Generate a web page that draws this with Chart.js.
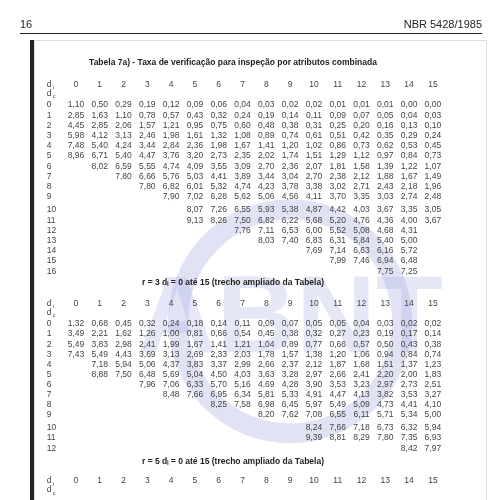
<!DOCTYPE html>
<html>
<head>
<meta charset="utf-8">
<script src="https://cdn.jsdelivr.net/npm/chart.js@4"></script>
<style>
  html, body { margin: 0; padding: 0; background: #fff; }
  canvas { display: block; }
</style>
</head>
<body>
<canvas id="tbl" width="500" height="500"></canvas>
<script>
// column headers d_i = 0..15
const colLabels = ["0","1","2","3","4","5","6","7","8","9","10","11","12","13","14","15"];

// r = 3 table, each row: [d_c, first column, values...]
const rowsR3 = [
  [0, 0, "1,10 0,50 0,29 0,19 0,12 0,09 0,06 0,04 0,03 0,02 0,02 0,01 0,01 0,01 0,00 0,00"],
  [1, 0, "2,85 1,63 1,10 0,78 0,57 0,43 0,32 0,24 0,19 0,14 0,11 0,09 0,07 0,05 0,04 0,03"],
  [2, 0, "4,45 2,85 2,06 1,57 1,21 0,95 0,75 0,60 0,48 0,38 0,31 0,25 0,20 0,16 0,13 0,10"],
  [3, 0, "5,98 4,12 3,13 2,46 1,98 1,61 1,32 1,08 0,89 0,74 0,61 0,51 0,42 0,35 0,29 0,24"],
  [4, 0, "7,48 5,40 4,24 3,44 2,84 2,36 1,98 1,67 1,41 1,20 1,02 0,86 0,73 0,62 0,53 0,45"],
  [5, 0, "8,96 6,71 5,40 4,47 3,76 3,20 2,73 2,35 2,02 1,74 1,51 1,29 1,12 0,97 0,84 0,73"],
  [6, 1, "8,02 6,59 5,55 4,74 4,09 3,55 3,09 2,70 2,36 2,07 1,81 1,58 1,39 1,22 1,07"],
  [7, 2, "7,80 6,66 5,76 5,03 4,41 3,89 3,44 3,04 2,70 2,38 2,12 1,88 1,67 1,49"],
  [8, 3, "7,80 6,82 6,01 5,32 4,74 4,23 3,78 3,38 3,02 2,71 2,43 2,18 1,96"],
  [9, 4, "7,90 7,02 6,28 5,62 5,06 4,56 4,11 3,70 3,35 3,03 2,74 2,48"],
  [10, 5, "8,07 7,26 6,55 5,93 5,38 4,87 4,42 4,03 3,67 3,35 3,05"],
  [11, 5, "9,13 8,26 7,50 6,82 6,22 5,68 5,20 4,76 4,36 4,00 3,67"],
  [12, 7, "7,76 7,11 6,53 6,00 5,52 5,08 4,68 4,31"],
  [13, 8, "8,03 7,40 6,83 6,31 5,84 5,40 5,00"],
  [14, 10, "7,69 7,14 6,63 6,16 5,72"],
  [15, 11, "7,99 7,46 6,94 6,48"],
  [16, 13, "7,75 7,25"]
];

// r = 5 table
const rowsR5 = [
  [0, 0, "1,32 0,68 0,45 0,32 0,24 0,18 0,14 0,11 0,09 0,07 0,05 0,05 0,04 0,03 0,02 0,02"],
  [1, 0, "3,49 2,21 1,62 1,26 1,00 0,81 0,66 0,54 0,45 0,38 0,32 0,27 0,23 0,19 0,17 0,14"],
  [2, 0, "5,49 3,83 2,98 2,41 1,99 1,67 1,41 1,21 1,04 0,89 0,77 0,66 0,57 0,50 0,43 0,38"],
  [3, 0, "7,43 5,49 4,43 3,69 3,13 2,69 2,33 2,03 1,78 1,57 1,38 1,20 1,06 0,94 0,84 0,74"],
  [4, 1, "7,18 5,94 5,06 4,37 3,83 3,37 2,99 2,66 2,37 2,12 1,87 1,68 1,51 1,37 1,23"],
  [5, 1, "8,88 7,50 6,48 5,69 5,04 4,50 4,03 3,63 3,28 2,97 2,66 2,41 2,20 2,00 1,83"],
  [6, 3, "7,96 7,06 6,33 5,70 5,16 4,69 4,28 3,90 3,53 3,23 2,97 2,73 2,51"],
  [7, 4, "8,48 7,66 6,95 6,34 5,81 5,33 4,91 4,47 4,13 3,82 3,53 3,27"],
  [8, 6, "8,25 7,58 6,98 6,45 5,97 5,49 5,09 4,73 4,41 4,10"],
  [9, 8, "8,20 7,62 7,08 6,55 6,11 5,71 5,34 5,00"],
  [10, 10, "8,24 7,66 7,18 6,73 6,32 5,94"],
  [11, 10, "9,39 8,81 8,29 7,80 7,35 6,93"],
  [12, 14, "8,42 7,97"]
];

const titleText = "Tabela 7a) - Taxa de verificação para inspeção por atributos combinada";
const captionR3 = "r = 3 d\u1d62 = 0 até 15 (trecho ampliado da Tabela)";
const captionR5 = "r = 5 d\u1d62 = 0 até 15 (trecho ampliado da Tabela)";

// y is measured in text lines
const LINE = 10.2;
const t1Top = 105 / LINE, t2Top = 324 / LINE;

function cellsOf(rows, top, stretch) {
  const pts = [];
  rows.forEach(([r, first, vals]) => {
    const y = top + r * stretch + (r >= 10 ? 0.3 : 0);
    pts.push({x: -1.1, y, v: String(r), label: true});
    vals.split(" ").forEach((v, i) => pts.push({x: first + i, y, v}));
  });
  return pts;
}

const headers = [t1Top - 2, t2Top - 2, 481 / LINE].map(y => ({y}));

const textPlugin = {
  id: "textPlugin",
  beforeDatasetsDraw(chart) {
    const ctx = chart.ctx, xs = chart.scales.x, ys = chart.scales.y;
    ctx.save();
    // faint ABNT watermark ring
    ctx.strokeStyle = "rgba(170,175,225,0.35)";
    ctx.lineWidth = 20;
    ctx.beginPath();
    ctx.arc(xs.getPixelForValue(9), ys.getPixelForValue(31.5), 112, 0, Math.PI * 2);
    ctx.stroke();
    ctx.fillStyle = "rgba(170,175,225,0.3)";
    ctx.font = "bold 110px 'Liberation Sans'";
    ctx.textAlign = "center";
    ctx.textBaseline = "middle";
    ctx.fillText("ABNT", xs.getPixelForValue(9), ys.getPixelForValue(31.5));
    ctx.restore();
  },
  afterDatasetsDraw(chart) {
    const ctx = chart.ctx, xs = chart.scales.x, ys = chart.scales.y;
    ctx.save();
    ctx.fillStyle = "#222";
    ctx.textBaseline = "middle";
    // page header
    ctx.font = "11px 'Liberation Sans'";
    ctx.textAlign = "left";
    ctx.fillText("16", 20, 25);
    ctx.textAlign = "right";
    ctx.fillText("NBR 5428/1985", 482, 25);
    ctx.fillRect(20, 33, 462, 1);
    ctx.fillRect(30, 40, 4, 460);
    ctx.strokeStyle = "#ddd";
    ctx.strokeRect(34.5, 40.5, 452, 460);

    ctx.font = "bold 8.5px 'Liberation Sans'";
    ctx.textAlign = "center";
    ctx.fillText(titleText, xs.getPixelForValue(6.6), ys.getPixelForValue(63 / LINE));
    ctx.fillText(captionR3, xs.getPixelForValue(6.6), ys.getPixelForValue(283 / LINE));
    ctx.fillText(captionR5, xs.getPixelForValue(6.6), ys.getPixelForValue(462 / LINE));

    ctx.fillStyle = "#444";
    headers.forEach(h => {
      const py = ys.getPixelForValue(h.y);
      ctx.font = "8.5px 'Liberation Sans'";
      ctx.textAlign = "center";
      colLabels.forEach((c, i) => ctx.fillText(c, xs.getPixelForValue(i), py));
      ctx.textAlign = "left";
      const lx = xs.getPixelForValue(-1.1) - 3;
      ctx.fillText("d", lx, py);
      ctx.fillText("d", lx, py + 9);
      ctx.font = "5.5px 'Liberation Sans'";
      ctx.fillText("i", lx + 6, py + 3);
      ctx.fillText("c", lx + 6, py + 12);
    });

    ctx.font = "8.5px 'Liberation Sans'";
    chart.data.datasets.forEach((ds, di) => {
      chart.getDatasetMeta(di).data.forEach((el, i) => {
        const p = ds.data[i];
        ctx.textAlign = p.label ? "left" : "center";
        ctx.fillText(p.v, el.x - (p.label ? 3 : 0), el.y);
      });
    });
    ctx.restore();
  }
};

new Chart(document.getElementById("tbl"), {
  type: "scatter",
  data: {
    datasets: [
      {label: "r = 3", data: cellsOf(rowsR3, t1Top, 1), pointRadius: 0},
      {label: "r = 5", data: cellsOf(rowsR5, t2Top, 0.99), pointRadius: 0}
    ]
  },
  options: {
    responsive: false,
    animation: false,
    layout: {padding: 0},
    plugins: {legend: {display: false}, tooltip: {enabled: false}},
    scales: {
      x: {type: "linear", min: -3.19, max: 17.82, display: false},
      y: {type: "linear", min: 0, max: 500 / LINE, reverse: true, display: false}
    }
  },
  plugins: [textPlugin]
});
</script>
</body>
</html>
